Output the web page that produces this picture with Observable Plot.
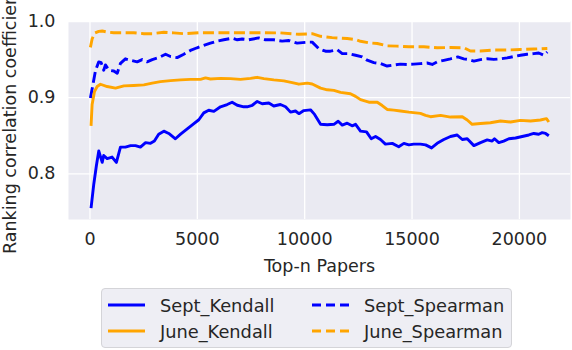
<!DOCTYPE html>
<html>
<head>
<meta charset="utf-8">
<script src="https://cdn.jsdelivr.net/npm/d3@7"></script>
<script src="https://cdn.jsdelivr.net/npm/@observablehq/plot@0.6"></script>
<style>
  html, body { margin: 0; padding: 0; background: white; }
  #wrap { position: relative; width: 572px; height: 350px; font-family: "DejaVu Sans", sans-serif; color: #262626; overflow: hidden; }
  #legend { position: absolute; left: 101px; top: 288px; width: 409px; height: 58px; border: 1px solid #d4d4d8; border-radius: 4px; background: #eeeef4; box-sizing: content-box; }
  .item { position: absolute; height: 20px; display: flex; align-items: center; font-size: 17.8px; white-space: nowrap; }
  .item svg { margin-right: 14px; }
</style>
</head>
<body>
<div id="wrap"><div id="chart"></div><div id="legend"></div></div>
<script>
const xTicks = [0, 5000, 10000, 15000, 20000];
const yTicks = [0.8, 0.9, 1.0];
const seriesNames = ["Sept_Kendall", "Sept_Spearman", "June_Kendall", "June_Spearman"];
const seriesColors = ["blue", "blue", "orange", "orange"];
const seriesDashed = [false, true, false, true];

const septKendall = [[50,0.755],[180,0.787],[300,0.811],[410,0.830],[570,0.815],[640,0.824],[800,0.820],[1030,0.822],[1230,0.815],[1420,0.835],[1650,0.835],[1890,0.837],[2120,0.837],[2350,0.835],[2590,0.841],[2820,0.840],[3000,0.843],[3200,0.852],[3440,0.856],[3670,0.853],[3980,0.846],[4220,0.852],[4530,0.859],[4840,0.866],[5070,0.871],[5300,0.880],[5530,0.8835],[5770,0.882],[6080,0.888],[6390,0.891],[6620,0.894],[6860,0.890],[7160,0.888],[7320,0.888],[7560,0.890],[7790,0.895],[8020,0.892],[8330,0.893],[8560,0.889],[8870,0.891],[9110,0.888],[9340,0.881],[9570,0.8825],[9730,0.879],[9960,0.883],[10270,0.884],[10460,0.878],[10740,0.865],[11050,0.8645],[11360,0.865],[11560,0.869],[11750,0.864],[11980,0.8665],[12210,0.863],[12370,0.865],[12600,0.856],[12880,0.855],[13100,0.846],[13300,0.849],[13530,0.845],[13760,0.839],[14080,0.840],[14380,0.8356],[14620,0.840],[14850,0.838],[15080,0.839],[15390,0.839],[15630,0.838],[15910,0.834],[16170,0.840],[16480,0.845],[16790,0.849],[17100,0.851],[17340,0.845],[17570,0.846],[17880,0.837],[18190,0.841],[18500,0.8445],[18730,0.843],[18840,0.846],[19040,0.841],[19270,0.843],[19510,0.846],[19820,0.847],[20130,0.849],[20440,0.851],[20670,0.853],[20900,0.852],[21060,0.854],[21220,0.853],[21370,0.850]];

const juneKendall = [[50,0.863],[100,0.891],[210,0.908],[335,0.9146],[490,0.9176],[800,0.9146],[1190,0.9125],[1580,0.9155],[2040,0.916],[2510,0.9168],[2900,0.919],[3280,0.921],[3750,0.9224],[4220,0.9233],[4680,0.924],[5150,0.924],[5380,0.926],[5610,0.9245],[6080,0.9253],[6540,0.925],[7010,0.924],[7480,0.9253],[7790,0.9267],[8100,0.925],[8560,0.9233],[9030,0.922],[9420,0.9198],[9730,0.9177],[10120,0.919],[10350,0.918],[10740,0.9125],[11050,0.9103],[11360,0.9095],[11670,0.907],[12130,0.9052],[12370,0.9017],[12600,0.8974],[12990,0.894],[13380,0.894],[13610,0.8896],[13840,0.8845],[14150,0.8836],[14460,0.8825],[14850,0.881],[15390,0.8793],[15630,0.8767],[15860,0.875],[16330,0.8767],[16790,0.8745],[17340,0.875],[17570,0.8707],[17800,0.865],[18190,0.866],[18650,0.867],[19120,0.8693],[19590,0.868],[20050,0.8702],[20520,0.8693],[20980,0.8707],[21260,0.8725],[21370,0.868]];

const septSpearman = [[20,0.8995],[150,0.919],[260,0.936],[410,0.947],[520,0.946],[640,0.936],[720,0.943],[880,0.936],[1110,0.935],[1270,0.932],[1420,0.945],[1650,0.951],[1890,0.949],[2200,0.947],[2430,0.950],[2660,0.947],[2900,0.950],[3200,0.9526],[3520,0.957],[3750,0.954],[4060,0.9526],[4370,0.957],[4680,0.962],[4990,0.9655],[5300,0.9686],[5610,0.9716],[5920,0.9742],[6230,0.976],[6620,0.978],[6860,0.976],[7090,0.977],[7400,0.976],[7860,0.9785],[8170,0.976],[8560,0.976],[8950,0.9742],[9260,0.975],[9650,0.9716],[10120,0.9729],[10350,0.9729],[10660,0.9643],[10970,0.961],[11200,0.961],[11510,0.963],[11750,0.9578],[12050,0.9578],[12370,0.9557],[12680,0.9535],[12910,0.9492],[13220,0.946],[13530,0.9447],[13840,0.9415],[14150,0.9428],[14460,0.944],[14770,0.9436],[15080,0.944],[15390,0.9447],[15700,0.9455],[15940,0.9436],[16170,0.947],[16480,0.949],[16790,0.951],[17130,0.9535],[17410,0.951],[17640,0.950],[17880,0.948],[18190,0.950],[18500,0.951],[18810,0.9502],[19120,0.951],[19430,0.9522],[19740,0.954],[20050,0.9557],[20360,0.957],[20670,0.9578],[20900,0.9587],[21140,0.9557],[21300,0.960]];

const juneSpearman = [[20,0.966],[100,0.977],[210,0.9846],[410,0.987],[570,0.9875],[800,0.9862],[1110,0.9853],[1580,0.9853],[2040,0.9853],[2510,0.984],[2900,0.984],[3440,0.9858],[3900,0.985],[4370,0.984],[5150,0.9853],[6080,0.9853],[7400,0.9853],[7940,0.9853],[8870,0.985],[9730,0.9832],[10350,0.984],[10740,0.9806],[11280,0.9788],[11980,0.9776],[12370,0.9763],[12600,0.974],[12990,0.972],[13380,0.9711],[13840,0.968],[14310,0.9676],[14850,0.9668],[15550,0.9668],[16170,0.9655],[16790,0.9659],[17410,0.9655],[17720,0.9612],[18190,0.9612],[18810,0.9625],[19430,0.9625],[20050,0.9633],[20670,0.9638],[21300,0.9646]];

const seriesData = [septKendall, septSpearman, juneKendall, juneSpearman];

const lineMarks = seriesData.map((data, i) => Plot.line(data, {
  x: d => d[0], y: d => d[1],
  stroke: seriesColors[i], strokeWidth: 2.9,
  strokeDasharray: seriesDashed[i] ? "11,4.5" : null,
  strokeLinejoin: "round", strokeLinecap: "butt"
}));

const chart = Plot.plot({
  width: 572, height: 286,
  marginLeft: 68, marginRight: 2, marginTop: 21, marginBottom: 67,
  style: {fontFamily: "DejaVu Sans", fontSize: "17.5px", color: "#262626", background: "white", overflow: "visible"},
  x: {domain: [-1000, 22380]},
  y: {domain: [0.74, 1.0]},
  marks: [
    Plot.frame({fill: "#eaeaf2", stroke: "none"}),
    Plot.gridX(xTicks, {stroke: "white", strokeOpacity: 1, strokeWidth: 1.3}),
    Plot.gridY(yTicks, {stroke: "white", strokeOpacity: 1, strokeWidth: 1.3}),
    Plot.axisX(xTicks, {tickSize: 0, tickPadding: 13, tickFormat: d3.format("d"),
      label: "Top-n Papers", labelAnchor: "center", labelArrow: "none", labelOffset: 52}),
    Plot.axisY(yTicks, {tickSize: 0, tickPadding: 13, tickFormat: d3.format(".1f"),
      label: "Ranking correlation coefficient", labelAnchor: "center", labelArrow: "none", labelOffset: 65}),
    ...lineMarks
  ]
});
document.getElementById("chart").appendChild(chart);

// legend
const legend = document.getElementById("legend");
const legendOrder = [0, 1, 2, 3];
const colLeft = [5, 209];
const rowTop = [6, 32];
legendOrder.forEach((si, k) => {
  const col = k % 2, row = Math.floor(k / 2);
  const div = document.createElement("div");
  div.className = "item";
  div.style.left = colLeft[col] + "px";
  div.style.top = rowTop[row] + "px";
  const sw = d3.create("svg").attr("width", 39).attr("height", 20);
  sw.append("line").attr("x1", 1).attr("x2", 38).attr("y1", 10).attr("y2", 10)
    .attr("stroke", seriesColors[si]).attr("stroke-width", 2.9)
    .attr("stroke-dasharray", seriesDashed[si] ? "9,5" : null);
  div.appendChild(sw.node());
  const t = document.createElement("span");
  t.textContent = seriesNames[si];
  div.appendChild(t);
  legend.appendChild(div);
});
</script>
</body>
</html>
